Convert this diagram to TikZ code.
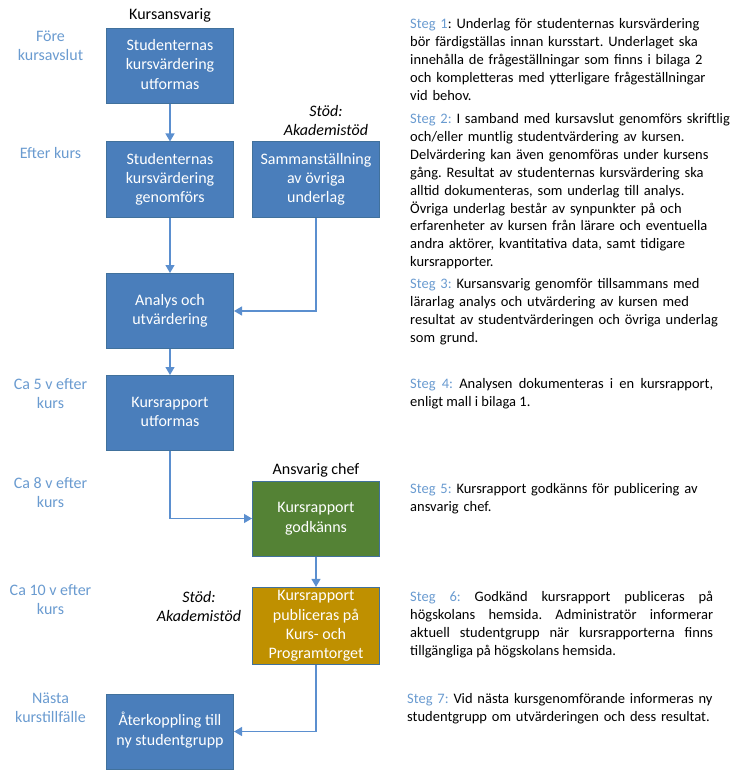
\documentclass[tikz,border=0pt]{standalone}
\usepackage{fontspec}
\setmainfont{Carlito}
\usetikzlibrary{arrows.meta}
\definecolor{boxblue}{HTML}{4A7EBB}
\definecolor{boxgreen}{HTML}{548235}
\definecolor{boxgold}{HTML}{BF9000}
\definecolor{boxline}{HTML}{41719C}
\definecolor{arrowblue}{HTML}{5B8FCF}
\definecolor{lblblue}{HTML}{6A9BD0}
\tikzset{
  procbox/.style={draw=boxline, line width=1pt, fill=boxblue, text=white,
    minimum width=127pt, minimum height=75pt, inner sep=0pt, align=center,
    font=\fontsize{16}{19.3}\selectfont},
  timelbl/.style={text=lblblue, align=center, inner sep=0pt,
    font=\fontsize{16}{19}\selectfont},
  rolelbl/.style={text=black, align=center, inner sep=0pt,
    font=\fontsize{16}{19}\selectfont},
  steptext/.style={anchor=north west, inner sep=0pt, text width=330pt, align=left,
    font=\fontsize{14.5}{17.9}\selectfont\frenchspacing},
  stepjust/.style={anchor=north west, inner sep=0pt, text width=303pt, align=justify,
    font=\fontsize{14.5}{17.9}\selectfont\frenchspacing},
  conn/.style={draw=arrowblue, line width=1.2pt,
    -{Triangle[width=9pt,length=8pt]}},
}
\newcommand{\stg}[1]{\textcolor{lblblue}{#1}}
\begin{document}
\begin{tikzpicture}[x=1pt,y=-1pt]
\useasboundingbox (0,0) rectangle (738,778);
% boxes
\node[procbox] (b1) at (170,66) {\strut Studenternas\\kursvärdering\\utformas\strut};
\node[procbox] (b2) at (170,179.5) {\strut Studenternas\\kursvärdering\\genomförs\strut};
\node[procbox] (b3) at (316,179.5) {\strut Sammanställning\\av övriga\\underlag\strut};
\node[procbox] (b4) at (170,311) {\strut Analys och\\utvärdering\strut};
\node[procbox] (b5) at (170,413) {\strut Kursrapport\\utformas\strut};
\node[procbox, fill=boxgreen] (b6) at (316,518.5) {\strut Kursrapport\\godkänns\strut};
\node[procbox, fill=boxgold] (b7) at (316,626) {\strut Kursrapport\\publiceras på\\Kurs- och\\Programtorget\strut};
\node[procbox] (b8) at (170,731.5) {\strut Återkoppling till\\ny studentgrupp\strut};
% connectors
\draw[conn] (b1) -- (b2);
\draw[conn] (b2) -- (b4);
\draw[conn] (b3.south) |- (b4.east);
\draw[conn] (b4) -- (b5);
\draw[conn] (b5.south) |- (b6.west);
\draw[conn] (b6) -- (b7);
\draw[conn] (b7.south) |- (b8.east);
% time labels
\node[timelbl] (t1) at (50.5,47.5) {\strut Före\\kursavslut\strut};
\node[timelbl] (t2) at (50.5,155) {\strut Efter kurs\strut};
\node[timelbl] (t3) at (50.5,395) {\strut Ca 5 v efter\\kurs\strut};
\node[timelbl] (t4) at (50.5,494) {\strut Ca 8 v efter\\kurs\strut};
\node[timelbl] (t5) at (50.5,601.5) {\strut Ca 10 v efter\\kurs\strut};
\node[timelbl] (t6) at (50.5,709.5) {\strut Nästa\\kurstillfälle\strut};
% role labels
\node[rolelbl] (r1) at (170,16) {\strut Kursansvarig\strut};
\node[rolelbl, font=\fontsize{16}{19}\selectfont\itshape] (r2) at (326,122.5) {\strut Stöd:\\Akademistöd\strut};
\node[rolelbl] (r3) at (316,471) {\strut Ansvarig chef\strut};
\node[rolelbl, font=\fontsize{16}{19}\selectfont\itshape] (r4) at (199,608) {\strut Stöd:\\Akademistöd\strut};
% step texts
\node[steptext] (s1) at (410,15.8) {\strut\stg{Steg 1}: Underlag för studenternas kursvärdering\\bör färdigställas innan kursstart. Underlaget ska\\innehålla de frågeställningar som finns i bilaga 2\\och kompletteras med ytterligare frågeställningar\\vid behov.};
\node[steptext] (s2) at (410,110.8) {\strut\stg{Steg 2:} I samband med kursavslut genomförs skriftlig\\och/eller muntlig studentvärdering av kursen.\\Delvärdering kan även genomföras under kursens\\gång. Resultat av studenternas kursvärdering ska\\alltid dokumenteras, som underlag till analys.\\Övriga underlag består av synpunkter på och\\erfarenheter av kursen från lärare och eventuella\\andra aktörer, kvantitativa data, samt tidigare\\kursrapporter.};
\node[steptext] (s3) at (410,275.8) {\strut\stg{Steg 3:} Kursansvarig genomför tillsammans med\\lärarlag analys och utvärdering av kursen med\\resultat av studentvärderingen och övriga underlag\\som grund.};
\node[stepjust] (s4) at (410,375.8) {\strut\stg{Steg 4:} Analysen dokumenteras i en kursrapport,\linebreak enligt mall i bilaga 1.};
\node[steptext] (s5) at (410,480.8) {\strut\stg{Steg 5:} Kursrapport godkänns för publicering av\\ansvarig chef.};
\node[stepjust] (s6) at (410,588.8) {\strut\stg{Steg 6:} Godkänd kursrapport publiceras på\linebreak högskolans hemsida. Administratör informerar\linebreak aktuell studentgrupp när kursrapporterna finns\linebreak tillgängliga på högskolans hemsida.};
\node[steptext] (s7) at (407,690.5) {\strut\stg{Steg 7:} Vid nästa kursgenomförande informeras ny\\studentgrupp om utvärderingen och dess resultat.};
\end{tikzpicture}
\end{document}
